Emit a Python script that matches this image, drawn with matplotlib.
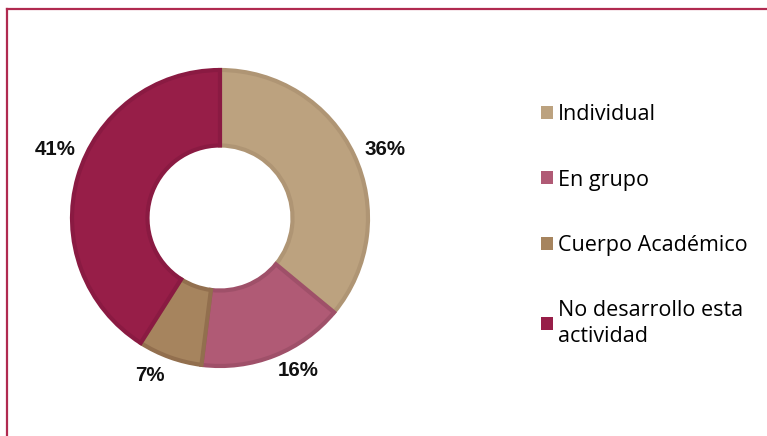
import matplotlib
matplotlib.use("Agg")
import matplotlib.pyplot as plt
from matplotlib.lines import Line2D
from matplotlib.patches import Patch

# Data
categories = ["Individual", "En grupo", "Cuerpo Académico", "No desarrollo esta\nactividad"]
values = [36, 16, 7, 41]
colors = ["#BCA27F", "#B05A75", "#A6845E", "#971E48"]
edge_colors = ["#AF9574", "#9F5069", "#926F4E", "#8A1A42"]

# label placement (data units, relative to pie centre)
label_pos = [(1.115, 0.46), (0.527, -1.03), (-0.473, -1.065), (-1.115, 0.46)]

W, H = 767, 436
fig = plt.figure(figsize=(W / 100, H / 100), dpi=100)
fig.patch.set_facecolor("white")

# Frame lines (top and left)
fig.add_artist(Line2D([7 / W, 1], [1 - 9 / H, 1 - 9 / H], transform=fig.transFigure,
                      color="#B02A50", linewidth=1.6))
fig.add_artist(Line2D([7 / W, 7 / W], [0, 1 - 9 / H], transform=fig.transFigure,
                      color="#B02A50", linewidth=1.6))

# Donut axes: centre at (220, 218) px, outer radius 148 px
cx, cy, r = 220, 218, 148
half = 200
ax = fig.add_axes([(cx - half) / W, (H - cy - half) / H, 2 * half / W, 2 * half / H])
wedges, texts, autotexts = ax.pie(
    values, colors=colors, startangle=90, counterclock=False,
    radius=1, autopct="%d%%", pctdistance=1.2,
    wedgeprops=dict(width=0.51, linewidth=3),
    textprops=dict(fontsize=14.8, fontweight="bold", family="Liberation Sans", color="#111111"),
)
for w, ec in zip(wedges, edge_colors):
    w.set_edgecolor(ec)
for t, p in zip(autotexts, label_pos):
    t.set_position(p)
lim = half / r
ax.set_xlim(-lim, lim)
ax.set_ylim(-lim, lim)
ax.set_aspect("equal")
ax.axis("off")

handles = [Patch(facecolor=c, edgecolor="none") for c in colors]
leg = fig.legend(handles, categories, loc="upper left",
                 bbox_to_anchor=(522 / W, 1 - 85 / H), frameon=False,
                 prop=dict(family="Open Sans", size=15.5),
                 handlelength=0.55, handleheight=0.55, handletextpad=0.2,
                 labelspacing=2.05)
for t in leg.get_texts():
    t.set_linespacing(1.35)

fig.savefig("out.png", dpi=100)
